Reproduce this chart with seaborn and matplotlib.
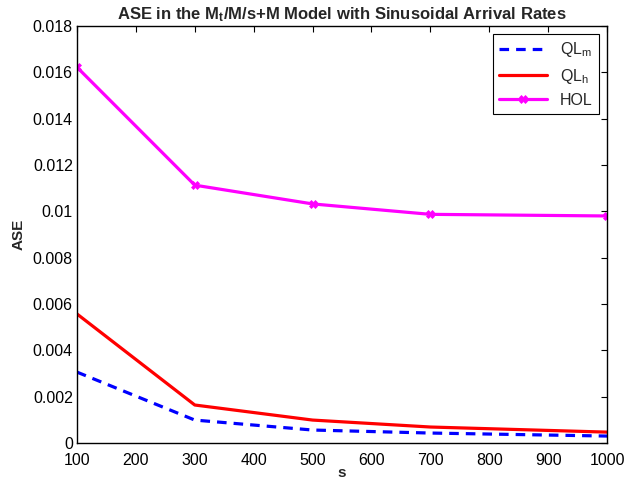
import matplotlib
matplotlib.use("Agg")
import matplotlib.pyplot as plt
import seaborn as sns
import pandas as pd

s_values = [100, 300, 500, 700, 1000]
ql_m = [0.00306, 0.00099, 0.00056, 0.00043, 0.00030]
ql_h = [0.00557, 0.00164, 0.00099, 0.00069, 0.00047]
hol = [0.01622, 0.01113, 0.01032, 0.00987, 0.00980]

sns.set_style("white")
plt.rcParams['font.family'] = ['Liberation Sans', 'DejaVu Sans']
plt.rcParams['mathtext.fontset'] = 'custom'
plt.rcParams['mathtext.rm'] = 'Liberation Sans'
plt.rcParams['mathtext.it'] = 'Liberation Sans'
plt.rcParams['mathtext.bf'] = 'Liberation Sans:bold'

fig = plt.figure(figsize=(6.24, 4.84), dpi=100)
ax = fig.add_axes([0.1234, 0.0847, 0.8494, 0.8616])

df_m = pd.DataFrame({"s": s_values, "ASE": ql_m})
df_h = pd.DataFrame({"s": s_values, "ASE": ql_h})
df_o = pd.DataFrame({"s": s_values, "ASE": hol})

sns.lineplot(data=df_m, x="s", y="ASE", ax=ax, color="#0000ff", lw=2.3,
             linestyle=(0, (3, 2.2)), label=r"QL$_\mathrm{m}$")
sns.lineplot(data=df_h, x="s", y="ASE", ax=ax, color="#ff0000", lw=2.3,
             label=r"QL$_\mathrm{h}$")
sns.lineplot(data=df_o, x="s", y="ASE", ax=ax, color="#ff00ff", lw=2.3,
             marker="X", markersize=6, markeredgewidth=0.5, markeredgecolor="#ff00ff",
             label="HOL")

ax.set_xlim(100, 1000)
ax.set_ylim(0, 0.018)
ax.set_xticks([100, 200, 300, 400, 500, 600, 700, 800, 900, 1000])
ax.set_yticks([0, 0.002, 0.004, 0.006, 0.008, 0.01, 0.012, 0.014, 0.016, 0.018])
ax.set_yticklabels(["0", "0.002", "0.004", "0.006", "0.008", "0.01", "0.012", "0.014", "0.016", "0.018"])
ax.tick_params(direction="in", top=True, right=True, length=4, width=0.8,
               labelsize=11.5, colors="black")
ax.tick_params(axis="x", pad=7)
ax.tick_params(axis="y", pad=3)
for sp in ax.spines.values():
    sp.set_visible(True)
    sp.set_color("black")
    sp.set_linewidth(1.0)

ax.set_xlabel("s", fontsize=11, fontweight="bold", labelpad=-1)
ax.set_ylabel("ASE", fontsize=11, fontweight="bold", labelpad=5)
ax.set_title(r"ASE in the M$_\mathbf{t}$/M/s+M Model with Sinusoidal Arrival Rates",
             fontsize=12, fontweight="bold", pad=5)

leg = ax.legend(loc="upper right", fontsize=11.5, frameon=True, fancybox=False,
                edgecolor="black", framealpha=1, borderaxespad=0.5,
                handlelength=3.0, labelspacing=0.45, borderpad=0.4)
leg.get_frame().set_linewidth(0.8)

fig.savefig("out.png", dpi=100)
